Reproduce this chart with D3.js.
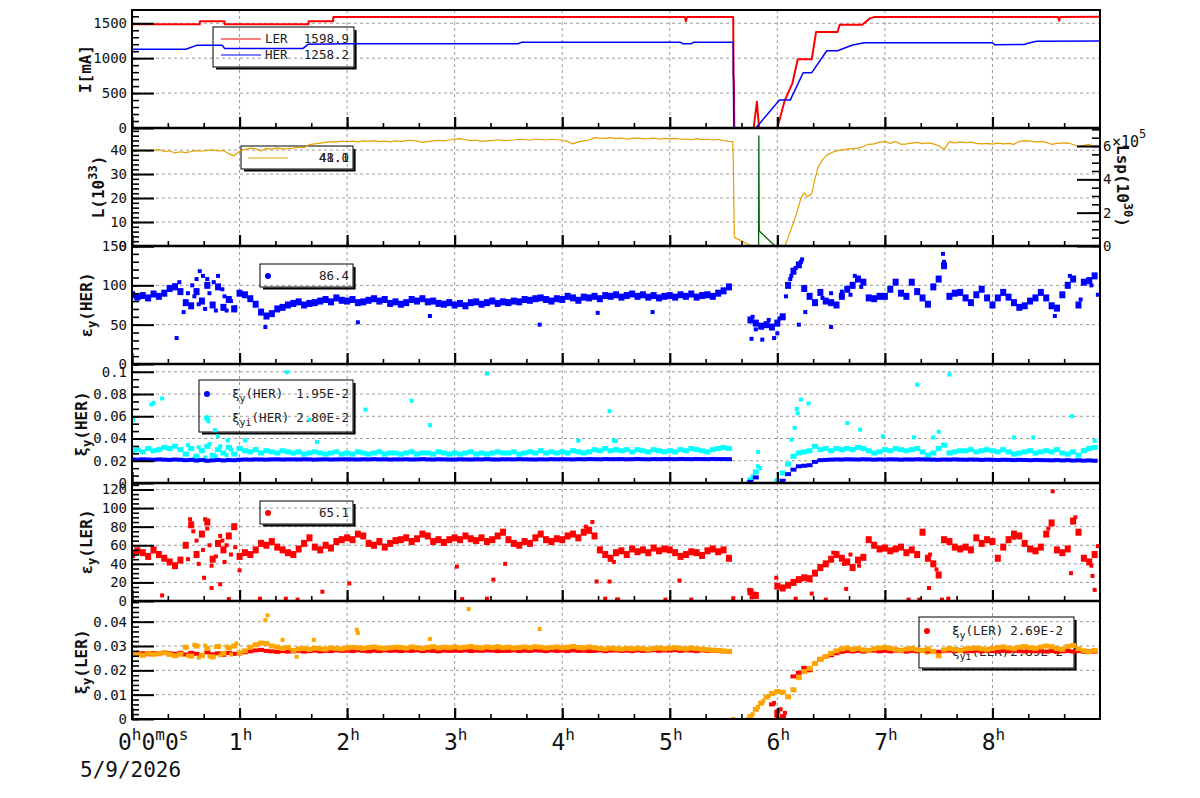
<!DOCTYPE html>
<html><head><meta charset="utf-8">
<script src="https://cdn.jsdelivr.net/npm/d3@7"></script>
<style>
body{margin:0;background:#fff}
text{font-family:'DejaVu Sans Mono','Liberation Mono',monospace}
</style>
</head><body>
<svg id="c" width="1200" height="798"></svg>
<script>
// ---------------- DATA ----------------
const hourTicks = [0,1,2,3,4,5,6,7,8];
const dateLabel = "5/9/2026";
const tStep = 0.05;   // sample spacing in hours for the sampled series (180 samples, 0 .. 8.95 h)

// beam currents [hour, mA]
const lerCurrent = [[0,1485],[0.63,1485],[0.632,1528],[0.86,1528],[0.862,1485],[1.64,1485],[1.642,1528],[1.87,1528],[1.872,1588],
  [5.14,1590],[5.15,1530],[5.16,1590],[5.59,1590],[5.592,760],[5.596,650],[5.6,0],[5.78,0],[5.81,377],[5.83,0],[6.0,0],
  [6.07,400],[6.14,640],[6.19,985],[6.32,985],[6.36,1375],[6.56,1375],[6.58,1480],[6.79,1480],[6.86,1570],[6.9,1588],
  [8.61,1590],[8.62,1535],[8.63,1590],[9,1595]];
const herCurrent = [[0,1127],[0.5,1127],[0.6,1184],[0.84,1184],[0.86,1140],[1.59,1140],[1.64,1200],[2.0,1207],[3.59,1207],[3.62,1227],
  [5.1,1227],[5.12,1208],[5.2,1208],[5.22,1227],[5.59,1227],[5.595,0],[5.8,0],[6.02,400],[6.12,400],[6.24,792],[6.32,792],
  [6.46,1107],[6.56,1107],[6.7,1188],[6.81,1222],[8.0,1222],[8.02,1193],[8.3,1195],[8.33,1215],[8.41,1241],[9,1245]];

// luminosity (10^33), sampled every 0.05 h; the loss/recovery window is in lumiEvent
const lumi = [
 39.0,39.8,40.0,39.6,39.9,40.2,39.4,39.7,38.8,39.3,
 38.9,39.4,39.8,39.5,39.9,40.1,39.6,39.8,38.5,37.6,
 39.5,40.3,40.8,40.5,39.6,40.7,40.4,40.9,40.5,40.6,
 40.8,41.2,41.0,42.3,42.6,42.9,43.2,43.5,43.3,43.7,
 43.5,43.7,43.4,43.8,43.6,43.9,43.5,43.7,43.4,43.8,
 43.6,43.9,44.1,43.7,43.2,43.5,43.8,44.0,43.8,44.2,
 44.6,44.8,44.3,43.9,44.1,43.6,43.8,44.0,44.3,43.9,
 44.0,44.2,44.5,44.4,44.1,44.6,44.4,44.2,44.5,44.3,
 44.1,43.6,42.6,43.4,43.8,44.2,45.2,45.0,44.9,45.2,
 44.8,45.0,44.6,44.9,45.1,44.7,44.8,45.0,44.6,44.9,
 44.7,44.9,44.5,44.6,44.3,44.8,44.4,44.5,44.2,44.4,
 44.0,43.6,null,null,null,null,null,null,null,null,
 null,null,null,null,null,null,null,null,null,null,
 null,null,40.0,40.4,40.6,40.8,41.5,42.4,42.6,43.3,
 43.5,42.8,43.6,42.4,42.6,42.9,43.2,42.7,43.0,42.6,
 41.8,40.3,43.5,43.0,43.4,43.1,43.3,42.8,42.6,42.8,
 42.5,42.9,42.6,42.8,42.4,43.6,43.9,43.7,43.4,43.5,
 43.2,42.4,42.8,42.9,43.0,42.3,41.5,42.0,42.4,41.2];
const lumiEvent = [[5.585,43.5],[5.59,36],[5.6,3.6],[5.76,0],[6.07,0],[6.12,6],[6.18,13.7],[6.22,20],[6.25,22.2],[6.28,20.5],
  [6.32,21.8],[6.35,28],[6.38,33],[6.42,36],[6.46,37.9],[6.52,39.2],[6.58,40]];
// specific luminosity (10^5 x 10^30) [hour, value]
const lsp = [[5.826,0],[5.828,6.6],[5.83,3.4],[5.832,0.9],[5.98,0]];

// vertical emittance HER, sampled every 0.05 h
const epsHer = [
 88,85,87,84,89,86,90,96,98,92,
 78,74,92,80,100,75,98,72,82,70,
 90,88,83,76,66,61,64,70,72,75,
 77,79,75,77,78,80,82,79,84,81,
 80,82,78,79,81,83,80,82,77,79,
 76,78,82,80,83,79,80,77,76,78,
 75,77,74,78,79,76,78,80,77,79,
 78,80,79,82,81,83,84,82,80,83,
 82,86,84,81,85,84,86,83,87,86,
 88,85,87,89,86,88,85,87,84,86,
 87,85,88,86,89,85,87,88,86,90,
 93,98,null,null,null,56,52,48,50,47,
 52,60,100,118,126,96,86,78,91,80,
 78,75,86,95,100,108,104,84,83,86,
 86,95,104,90,86,104,92,84,76,98,
 108,125,86,90,91,84,78,88,95,84,
 75,84,91,85,78,72,74,80,84,91,
 84,74,71,88,100,108,75,104,106,112];
const epsHerExtra = [[0.4,100],[0.44,104],[0.48,66],[0.52,90],[0.56,100],[0.58,86],[0.6,108],[0.62,76],[0.63,118],[0.66,112],
  [0.68,70],[0.7,108],[0.72,90],[0.76,104],[0.78,68],[0.8,112],[0.84,95],[0.86,86],[0.88,68],[0.92,80],[0.96,72],
  [0.415,33],[1.24,47],[2.1,53],[2.77,61],[3.79,50],[4.33,65],[4.84,66],[5.76,32],[5.77,60],[5.8,44],[5.86,31],[5.92,56],
  [5.97,33],[6.0,39],[6.02,58],[6.08,86],[6.12,108],[6.13,112],[6.17,122],[6.2,50],[6.22,130],[6.23,133],[6.26,66],
  [6.42,84],[6.5,47],[6.5,90],[6.6,92],[6.68,88],[6.72,112],[6.78,98],[7.54,140],[7.55,130],[8.58,61],[8.72,112],
  [8.82,82],[8.92,100],[8.98,88]];

// vertical beam-beam parameter HER
const xiHer = [
 .0212,.0210,.0213,.0211,.0209,.0212,.0210,.0208,.0211,.0209,
 .0205,.0208,.0202,.0206,.0200,.0204,.0207,.0203,.0206,.0205,
 .0209,.0211,.0210,.0212,.0211,.0210,.0212,.0213,.0211,.0212,
 .0212,.0211,.0213,.0212,.0210,.0212,.0213,.0211,.0212,.0213,
 .0213,.0212,.0211,.0213,.0212,.0214,.0212,.0213,.0211,.0212,
 .0212,.0213,.0211,.0212,.0214,.0212,.0211,.0213,.0212,.0211,
 .0211,.0213,.0212,.0211,.0213,.0212,.0214,.0212,.0211,.0213,
 .0213,.0212,.0214,.0213,.0212,.0211,.0213,.0212,.0214,.0213,
 .0214,.0213,.0212,.0214,.0213,.0215,.0214,.0213,.0215,.0214,
 .0214,.0215,.0213,.0214,.0216,.0214,.0213,.0215,.0214,.0215,
 .0215,.0214,.0216,.0215,.0214,.0216,.0215,.0214,.0216,.0215,
 .0215,.0214,null,null,null,.0010,.0050,null,null,null,
 null,.0020,.0080,.0120,.0150,.0155,.0160,.0190,.0205,.0208,
 .0210,.0212,.0211,.0213,.0212,.0211,.0213,.0212,.0210,.0212,
 .0211,.0213,.0212,.0210,.0212,.0211,.0213,.0212,.0211,.0210,
 .0209,.0211,.0210,.0212,.0210,.0209,.0211,.0210,.0208,.0210,
 .0209,.0207,.0209,.0208,.0206,.0208,.0207,.0205,.0207,.0206,
 .0205,.0204,.0206,.0203,.0205,.0202,.0204,.0201,.0203,.0200];
const xiHerI = [
 .029,.030,.028,.031,.029,.030,.032,.031,.033,.030,
 .026,.031,.024,.029,.033,.025,.030,.027,.032,.026,
 .031,.029,.028,.030,.027,.029,.028,.027,.029,.028,
 .027,.028,.026,.027,.028,.027,.026,.027,.028,.026,
 .027,.026,.028,.027,.026,.027,.028,.026,.027,.027,
 .026,.027,.028,.026,.027,.027,.026,.028,.027,.026,
 .027,.026,.027,.028,.026,.027,.026,.027,.028,.027,
 .027,.028,.026,.027,.028,.027,.029,.027,.028,.027,
 .028,.027,.029,.028,.027,.028,.030,.029,.031,.029,
 .030,.029,.030,.028,.030,.029,.028,.030,.029,.028,
 .029,.028,.030,.029,.031,.030,.029,.028,.030,.031,
 .032,.031,null,null,null,.003,.010,null,null,null,
 .002,.009,.017,.024,.027,.028,.029,.033,.030,.031,
 .029,.031,.030,.031,.030,.032,.031,.029,.027,.028,
 .030,.029,.031,.030,.029,.030,.031,.028,.025,.027,
 .031,.034,.027,.028,.029,.029,.030,.028,.029,.030,
 .029,.028,.030,.028,.026,.027,.028,.029,.027,.028,
 .029,.028,.030,.027,.026,.028,.025,.029,.031,.032];
const xiHerIExtra = [[0.52,.034],[0.58,.022],[0.62,.032],[0.68,.023],[0.72,.035],[0.78,.024],[0.82,.033],[0.88,.025],[0.92,.030],
  [0.01,.057],[0.18,.0706],[0.2,.072],[0.28,.076],[0.71,.0556],[0.77,.0475],[0.8,.042],[0.89,.0383],[1.05,.0383],[1.44,.0996],
  [1.65,.057],[1.72,.037],[2.17,.066],[2.6,.074],[2.77,.052],[3.3,.0984],[4.15,.038],[4.44,.0646],[4.48,.038],[4.5,.038],
  [5.73,.0005],[5.77,.006],[5.82,.015],[5.84,.0135],[5.82,.028],[6.13,.039],[6.16,.0496],[6.18,.0667],[6.19,.0627],[6.22,.075],
  [6.29,.0715],[6.65,.054],[6.77,.048],[6.98,.042],[7.27,.041],[7.3,.0885],[7.45,.041],[7.5,.046],[7.6,.0975],[8.2,.041],
  [8.38,.041],[8.74,.060],[8.95,.038]];

// vertical emittance LER
const epsLer = [
 50,54,52,48,55,50,46,42,38,44,
 60,82,50,72,85,45,62,55,70,80,
 48,52,50,55,62,60,64,58,55,52,
 50,56,62,68,58,55,60,57,64,66,
 68,66,72,70,62,60,64,58,62,65,
 66,68,64,67,72,70,64,66,63,66,
 68,66,70,67,65,68,64,66,70,74,
 66,62,60,64,62,68,72,66,64,67,
 66,70,72,68,74,76,70,55,50,46,
 52,54,50,56,53,55,52,57,54,56,
 55,52,48,50,53,52,49,54,56,53,
 55,46,null,null,null,10,6,null,null,null,
 16,14,17,20,23,25,24,30,36,40,
 45,50,46,42,36,44,47,66,60,56,
 57,54,56,58,52,55,50,74,46,40,
 28,66,64,58,56,58,55,68,62,66,
 64,46,58,66,72,70,62,56,54,58,
 72,84,55,52,56,86,74,46,42,50];
const epsLerExtra = [[0.52,45],[0.54,88],[0.57,75],[0.6,65],[0.62,40],[0.66,55],[0.68,88],[0.7,78],[0.72,60],[0.74,38],
  [0.78,48],[0.82,70],[0.84,65],[0.86,42],[0.88,60],[0.92,50],[0.96,58],[0.28,6],[0.67,25],[0.74,14],[0.82,18],[0.9,2],
  [1.0,33],[1.19,2.5],[1.43,2.5],[1.54,1.5],[1.77,10],[2.02,19],[3.02,37],[3.07,2],[3.3,2.5],[3.36,23],[3.47,40],[4.22,80],
  [4.28,85],[4.32,21],[4.4,2.5],[4.44,21],[4.48,42],[4.51,1.5],[4.52,1.5],[4.96,1.5],[5.09,22],[5.2,1.5],[5.59,3],[5.74,12],
  [5.76,4],[5.78,8],[5.99,25],[6.17,2.5],[6.32,8],[6.45,1.5],[6.52,52],[6.62,40],[6.64,13],[6.68,50],[6.76,38],[7.22,1.5],
  [7.32,1.5],[7.41,14],[7.42,50],[7.48,34],[7.53,1.5],[7.59,2.5],[8.2,68],[8.52,78],[8.56,118],[8.73,30],[8.77,90],[8.92,38],
  [8.93,27],[8.95,12],[8.98,59]];

// vertical beam-beam parameter LER
const xiLer = [
 .0268,.0272,.0270,.0266,.0271,.0269,.0273,.0270,.0268,.0272,
 .0265,.0272,.0268,.0262,.0274,.0266,.0270,.0264,.0271,.0268,
 .0270,.0274,.0278,.0282,.0284,.0280,.0278,.0276,.0279,.0277,
 .0278,.0280,.0277,.0279,.0281,.0278,.0280,.0279,.0282,.0280,
 .0281,.0279,.0282,.0280,.0278,.0281,.0279,.0282,.0280,.0281,
 .0279,.0281,.0280,.0282,.0279,.0281,.0280,.0278,.0281,.0280,
 .0281,.0280,.0282,.0279,.0281,.0280,.0282,.0281,.0279,.0280,
 .0280,.0282,.0279,.0281,.0280,.0282,.0281,.0279,.0282,.0280,
 .0281,.0279,.0282,.0280,.0281,.0279,.0280,.0282,.0279,.0281,
 .0282,.0280,.0281,.0279,.0282,.0280,.0281,.0283,.0280,.0282,
 .0281,.0283,.0280,.0282,.0281,.0279,.0282,.0280,.0281,.0279,
 .0278,.0276,null,null,null,null,null,null,null,.0060,
 .0030,.0012,null,.0175,.0190,.0210,.0200,.0230,.0245,.0255,
 .0262,.0270,.0276,.0279,.0278,.0280,.0277,.0279,.0281,.0278,
 .0280,.0278,.0281,.0279,.0277,.0280,.0278,.0281,.0279,.0277,
 .0276,.0279,.0281,.0278,.0280,.0277,.0279,.0281,.0278,.0280,
 .0279,.0277,.0280,.0278,.0281,.0279,.0277,.0280,.0278,.0279,
 .0277,.0279,.0276,.0278,.0280,.0277,.0279,.0276,.0278,.0277];
const xiLerExtra = [[5.97,.0066],[5.99,.0015],[6.0,.0008],[6.03,.004],[6.06,.001],[6.07,.0025]];
const xiLerI = [
 .0265,.0268,.0262,.0270,.0266,.0268,.0272,.0265,.0260,.0266,
 .0295,.0258,.0300,.0262,.0290,.0255,.0298,.0270,.0292,.0300,
 .0272,.0280,.0295,.0305,.0312,.0310,.0300,.0296,.0290,.0294,
 .0282,.0288,.0290,.0286,.0291,.0289,.0287,.0292,.0290,.0288,
 .0292,.0295,.0293,.0290,.0294,.0296,.0292,.0290,.0293,.0295,
 .0294,.0291,.0296,.0293,.0290,.0294,.0297,.0292,.0295,.0293,
 .0296,.0293,.0295,.0298,.0294,.0292,.0296,.0294,.0297,.0293,
 .0295,.0292,.0294,.0296,.0293,.0297,.0295,.0292,.0294,.0296,
 .0293,.0295,.0298,.0294,.0292,.0296,.0293,.0290,.0288,.0291,
 .0289,.0287,.0290,.0288,.0291,.0289,.0286,.0290,.0292,.0289,
 .0291,.0293,.0290,.0288,.0292,.0289,.0287,.0285,.0283,.0282,
 .0280,.0278,null,null,null,.0010,.0040,.0065,.0090,.0105,
 .0113,.0110,.0091,.0120,.0170,.0195,.0208,.0228,.0246,.0257,
 .0270,.0280,.0288,.0292,.0286,.0290,.0284,.0282,.0289,.0292,
 .0294,.0290,.0286,.0282,.0287,.0290,.0285,.0282,.0288,.0278,
 .0260,.0284,.0290,.0286,.0282,.0288,.0290,.0292,.0288,.0285,
 .0290,.0294,.0296,.0292,.0289,.0295,.0298,.0293,.0290,.0296,
 .0300,.0297,.0290,.0286,.0298,.0302,.0288,.0280,.0276,.0282];
const xiLerIExtra = [[0.52,.0260],[0.58,.0305],[0.62,.0252],[0.68,.0302],[0.72,.0258],[0.78,.0296],[0.82,.0262],[0.88,.0298],
  [0.92,.0265],[0.97,.0310],[1.24,.0406],[1.26,.0426],[1.4,.0325],[1.53,.0256],[1.69,.0325],[2.09,.0367],[2.1,.0353],
  [2.77,.0329],[3.13,.0452],[3.79,.037],[5.59,0],[5.73,0],[5.77,.002],[5.82,.005],[5.87,.0075],[5.92,.0095]];

// y-axis tick labels per panel
const yTicksI = [0,500,1000,1500];
const yTicksL = [0,10,20,30,40];
const yTicksLsp = [0,2,4,6];
const yTicksEH = [0,50,100,150];
const yTicksXH = [0,0.02,0.04,0.06,0.08,0.1];
const yTicksEL = [0,20,40,60,80,100,120];
const yTicksXL = [0,0.01,0.02,0.03,0.04];

// legend texts
const legI = [["LER","1598.9"],["HER","1258.2"]];
const legL = ["48.0","41.1"];
const legEH = "86.4";
const legXH = [["ξ","y","(HER)","1.95E-2"],["ξ","yi","(HER)","2.80E-2"]];
const legEL = "65.1";
const legXL = [["ξ","y","(LER)","2.69E-2"],["ξ","yi","(LER)","2.89E-2"]];

// ---------------- DRAWING ----------------
const svg = d3.select('#c');
const X = d3.scaleLinear().domain([0,9]).range([132,1100]);
const edges = [10,128,246,364,483,601,719];
const sampleTimes = d3.range(lumi.length).map(i => i * tStep);
const sampled = arr => arr.map((v,i)=>[sampleTimes[i], v]).filter(d => d[1] !== null);

const panels = [
  {max:1690, ticks:yTicksI, minor:100},
  {max:49.2, ticks:yTicksL, minor:2},
  {max:150, ticks:yTicksEH, minor:10},
  {max:0.107, ticks:yTicksXH, minor:0.02/3},
  {max:127, ticks:yTicksEL, minor:5},
  {max:0.0485, ticks:yTicksXL, minor:0.002}
];
panels.forEach((p,i)=>{
  p.top = edges[i]; p.bot = edges[i+1];
  p.y = d3.scaleLinear().domain([0,p.max]).range([p.bot, p.top]);
});
const yLsp = d3.scaleLinear().domain([0,7.08]).range([246,128]);

const defs = svg.append('defs');
panels.forEach((p,i)=>{
  defs.append('clipPath').attr('id','clip'+i).append('rect')
    .attr('x',132).attr('y',p.top).attr('width',968).attr('height',p.bot-p.top);
});

// grid
const grid = svg.append('g').attr('stroke','#9a9a9a').attr('stroke-width',1).attr('stroke-dasharray','3,3');
panels.forEach(p=>{
  hourTicks.filter(h=>h>0).forEach(h=>{
    grid.append('line').attr('x1',X(h)).attr('x2',X(h)).attr('y1',p.top).attr('y2',p.bot);
  });
  p.ticks.filter(v=>v>0 && p.y(v) > p.top+1).forEach(v=>{
    grid.append('line').attr('x1',132).attr('x2',1100).attr('y1',p.y(v)).attr('y2',p.y(v));
  });
});

// legends (transparent, under data)
function legendBox(x0,y0,x1,y1){
  const g = svg.append('g');
  g.append('path').attr('d',`M${x0+3},${y1+1.5}H${x1+1.5}V${y0+3}`).attr('fill','none').attr('stroke','#000').attr('stroke-width',2.2);
  g.append('rect').attr('x',x0).attr('y',y0).attr('width',x1-x0).attr('height',y1-y0)
    .attr('fill','none').attr('stroke','#000').attr('stroke-width',1);
  return g;
}
function ltext(g,x,y,str,anchor){
  return g.append('text').attr('x',x).attr('y',y).attr('font-size',12.5).attr('fill','#222')
    .attr('text-anchor',anchor||'start').text(str);
}
function lsub(g,x,y,parts){
  const t = g.append('text').attr('x',x).attr('y',y).attr('font-size',12.5).attr('fill','#222');
  t.append('tspan').text(parts[0]);
  t.append('tspan').attr('dy',4).attr('font-size',10).text(parts[1]);
  t.append('tspan').attr('dy',-4).text(parts[2]);
}
{
  const g = legendBox(213,27,354,67);
  g.append('line').attr('x1',221).attr('x2',261).attr('y1',39).attr('y2',39).attr('stroke','#f00');
  g.append('line').attr('x1',221).attr('x2',261).attr('y1',55).attr('y2',55).attr('stroke','#00f');
  ltext(g,265,43,legI[0][0]); ltext(g,349,43,legI[0][1],'end');
  ltext(g,265,59,legI[1][0]); ltext(g,349,59,legI[1][1],'end');
}
{
  const g = legendBox(241,146,353,169);
  g.append('line').attr('x1',248).attr('x2',288).attr('y1',158).attr('y2',158).attr('stroke','#e6a000');
  legL.forEach(s=>ltext(g,349,162,s,'end'));
}
{
  const g = legendBox(260,264,353,287);
  g.append('circle').attr('cx',268).attr('cy',276).attr('r',3).attr('fill','#00f');
  ltext(g,349,280,legEH,'end');
}
{
  const g = legendBox(199,380,353,432);
  g.append('circle').attr('cx',207).attr('cy',394).attr('r',3).attr('fill','#00f');
  g.append('circle').attr('cx',207).attr('cy',418).attr('r',3).attr('fill','#0ff');
  lsub(g,232,398,legXH[0]); ltext(g,349,398,legXH[0][3],'end');
  lsub(g,232,422,legXH[1]); ltext(g,349,422,legXH[1][3],'end');
}
{
  const g = legendBox(260,501,353,524);
  g.append('circle').attr('cx',268).attr('cy',513).attr('r',3).attr('fill','#f00');
  ltext(g,349,517,legEL,'end');
}
{
  const g = legendBox(919,617,1074,668);
  g.append('circle').attr('cx',927).attr('cy',631).attr('r',3).attr('fill','#f00');
  g.append('circle').attr('cx',927).attr('cy',652).attr('r',3).attr('fill','#ffa500');
  lsub(g,952,635,legXL[0]); ltext(g,1063,635,legXL[0][3],'end');
  lsub(g,952,656,legXL[1]); ltext(g,1063,656,legXL[1][3],'end');
}

// data helpers
function line(pi, data, color, w, yScale){
  const y = yScale || panels[pi].y;
  svg.append('path').attr('clip-path',`url(#clip${pi})`)
    .attr('d', d3.line().x(d=>X(d[0])).y(d=>y(d[1]))(data))
    .attr('fill','none').attr('stroke',color).attr('stroke-width',w).attr('stroke-linejoin','round');
}
function scatter(pi, data, color, w, h){
  const y = panels[pi].y;
  svg.append('g').attr('clip-path',`url(#clip${pi})`).selectAll('rect').data(data).join('rect')
    .attr('x',d=>X(d[0])-w/2).attr('y',d=>y(d[1])-h/2).attr('width',w).attr('height',h).attr('fill',color);
}

// panel 1 currents
line(0, lerCurrent, '#f00', 2);
line(0, herCurrent, '#00f', 1.5);
// panel 2 luminosity + Lsp
line(1, lsp, '#006400', 1.3, yLsp);
const lumAll = sampled(lumi).concat(lumiEvent).sort((a,b)=>a[0]-b[0]);
line(1, lumAll, '#e6a000', 1.2);
// panel 3
scatter(2, sampled(epsHer), '#00f', 6, 7);
scatter(2, epsHerExtra, '#00f', 4, 4);
// panel 4
scatter(3, sampled(xiHerI), '#0ff', 6, 5);
scatter(3, xiHerIExtra, '#0ff', 4, 4);
scatter(3, sampled(xiHer), '#00f', 6, 4);
// panel 5
scatter(4, sampled(epsLer), '#f00', 6, 7);
scatter(4, epsLerExtra, '#f00', 4, 4);
// panel 6
scatter(5, sampled(xiLer), '#f00', 6, 4);
scatter(5, xiLerExtra, '#f00', 4, 4);
scatter(5, sampled(xiLerI), '#ffa500', 6, 5);
scatter(5, xiLerIExtra, '#ffa500', 4, 4);

// axes
function styleAxis(g, w){
  g.select('.domain').remove();
  g.selectAll('.tick line').attr('stroke','#000').attr('stroke-width',w);
  g.selectAll('.tick text').attr('font-size',14).attr('fill','#111')
    .attr('font-family',"'DejaVu Sans Mono',monospace");
}
const minorHours = d3.range(0, 9, 1/3);
panels.forEach((p,i)=>{
  const minors = d3.range(0, p.max + 1e-9, p.minor);
  styleAxis(svg.append('g').attr('transform','translate(132,0)')
    .call(d3.axisLeft(p.y).tickValues(minors).tickSize(-7).tickFormat('')), 1.6);
  styleAxis(svg.append('g').attr('transform','translate(132,0)')
    .call(d3.axisLeft(p.y).tickValues(p.ticks).tickSize(-22).tickPadding(5).tickFormat(d=>String(d))), 2);
  styleAxis(svg.append('g').attr('transform',`translate(0,${p.bot})`)
    .call(d3.axisBottom(X).tickValues(minorHours).tickSize(-5).tickFormat('')), 1.6);
  styleAxis(svg.append('g').attr('transform',`translate(0,${p.bot})`)
    .call(d3.axisBottom(X).tickValues(hourTicks).tickSize(-11).tickFormat('')), 2.2);
});
// right axis Lsp
styleAxis(svg.append('g').attr('transform','translate(1100,0)')
  .call(d3.axisRight(yLsp).tickValues(d3.range(0,7.08,0.5)).tickSize(-8).tickFormat('')), 1.6);
styleAxis(svg.append('g').attr('transform','translate(1100,0)')
  .call(d3.axisRight(yLsp).tickValues(yTicksLsp).tickSize(-23).tickPadding(3).tickFormat(d=>String(d))), 2);
{
  const t = svg.append('text').attr('x',1112).attr('y',147).attr('font-size',15).attr('fill','#111');
  t.append('tspan').text('×10');
  t.append('tspan').attr('dy',-9).attr('font-size',12).text('5');
}

// frame and separators
svg.append('rect').attr('x',132).attr('y',10).attr('width',968).attr('height',709)
  .attr('fill','none').attr('stroke','#000').attr('stroke-width',2);
edges.slice(1,6).forEach(e=>{
  svg.append('line').attr('x1',131).attr('x2',1101).attr('y1',e).attr('y2',e).attr('stroke','#000').attr('stroke-width',2.6);
});

// axis titles
function title(x, y, rot, parts){
  const t = svg.append('text').attr('transform',`translate(${x},${y}) rotate(${rot})`)
    .attr('text-anchor','middle').attr('font-size',16).attr('font-weight','bold').attr('fill','#111');
  parts.forEach(p=>{
    const s = t.append('tspan').text(p[0]);
    if (p[1]) s.attr('dy',p[1]);
    if (p[2]) s.attr('font-size',p[2]);
  });
}
title(91, 69, -90, [['I[mA]']]);
title(104, 187, -90, [['L(10'],['33',-7,12],[')',7]]);
title(92, 305, -90, [['ε'],['y',4,12],['(HER)',-4]]);
title(87, 424, -90, [['ξ'],['y',4,12],['(HER)',-4]]);
title(92, 542, -90, [['ε'],['y',4,12],['(LER)',-4]]);
title(87, 662, -90, [['ξ'],['y',4,12],['(LER)',-4]]);
title(1117, 186, 90, [['Lsp(10'],['30',-7,12],[')',7]]);

// time labels
hourTicks.forEach(h=>{
  const t = svg.append('text').attr('y',750).attr('fill','#111');
  const parts = h===0 ? [['0','h'],['0','m'],['0','s']] : [[String(h),'h']];
  if (h===0) t.attr('x',118); else t.attr('x',X(h)+1).attr('text-anchor','middle');
  parts.forEach((p,k)=>{
    t.append('tspan').attr('font-size',23).attr('dy', k ? 10 : 0).text(p[0]);
    t.append('tspan').attr('font-size',16).attr('dy',-10).text(p[1]);
  });
});
svg.append('text').attr('x',80).attr('y',777).attr('font-size',21).attr('fill','#111').text(dateLabel);
</script>
</body></html>
